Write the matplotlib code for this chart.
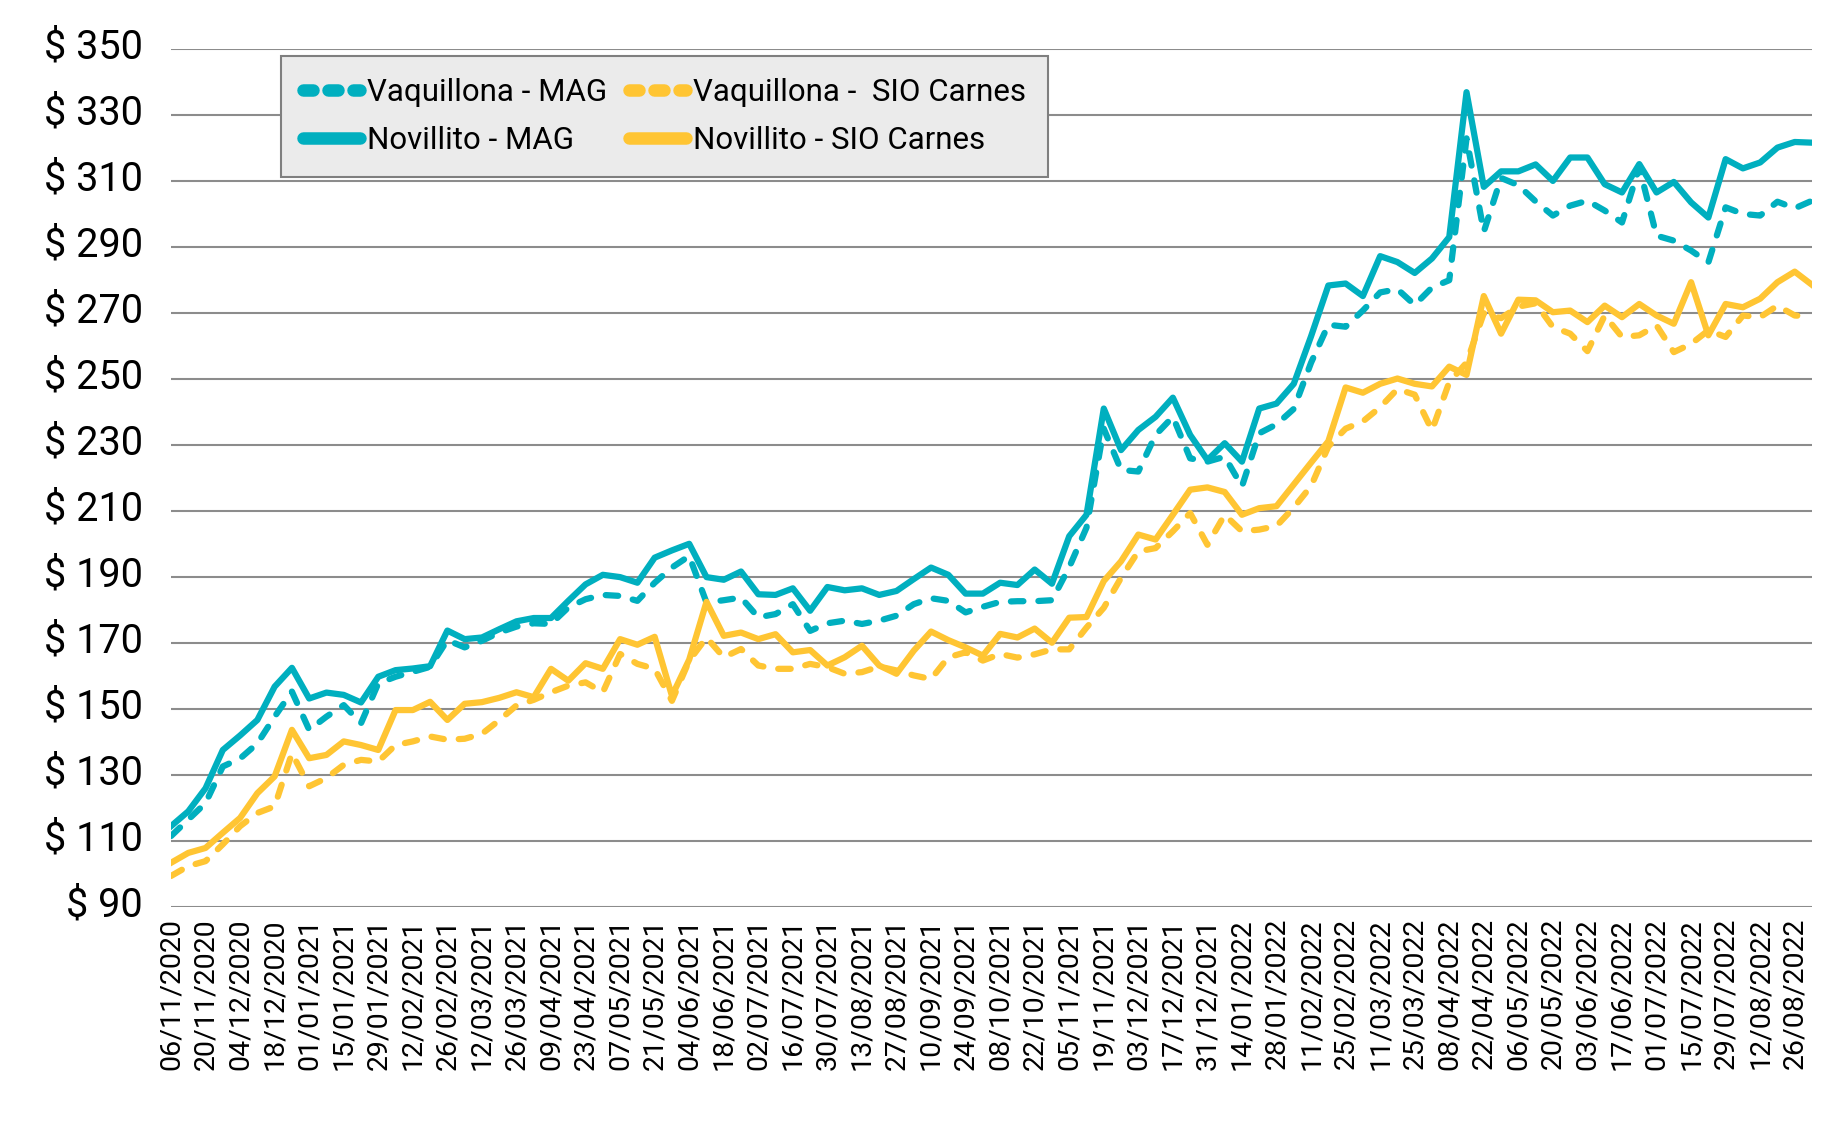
import numpy as np
import pandas as pd
import matplotlib
matplotlib.use('Agg')
import matplotlib.pyplot as plt
import matplotlib.dates as mdates
import matplotlib.transforms as mtransforms
from matplotlib.lines import Line2D

plt.rcParams['font.family'] = ['Roboto', 'DejaVu Sans']

# semanas desde 06/11/2020
fechas = pd.date_range('2020-11-06', periods=96, freq='7D')

novillito_mag = [
    114.5, 119, 126, 137.6, 142, 146.7, 156.8, 162.5, 153.2, 155,
    154.3, 152, 159.8, 161.8, 162.3, 163, 173.8, 171.2, 171.7, 174.2,
    176.6, 177.6, 177.6, 182.8, 187.8, 190.7, 190, 188.3, 195.9, 198.1,
    200.1, 190, 189.2, 191.7, 184.8, 184.6, 186.6, 179.8, 187, 186,
    186.6, 184.6, 185.8, 189.4, 192.9, 190.7, 185, 185, 188.3, 187.6,
    192.3, 188, 202.4, 208.9, 241.1, 228.5, 234.6, 238.6, 244.4, 233.1,
    225.5, 230.6, 225, 241.1, 242.6, 248.6, 263, 278.4, 279, 275.2,
    287.3, 285.5, 282.2, 286.6, 293.1, 337, 308.3, 313, 313, 315.1,
    310.1, 317.2, 317.2, 309.1, 306.6, 315.2, 306.6, 309.8, 303.6, 299,
    316.7, 313.9, 315.7, 320.2, 321.9, 321.7]

vaquillona_mag = [
    111.5, 116.5, 121.5, 132.6, 135, 139.6, 147.7, 155.3, 143.7, 147.7,
    151.2, 145.7, 157.8, 159.8, 161.3, 162.8, 170.9, 168.7, 170.7, 173.2,
    175, 176, 175.8, 180.8, 183.3, 184.6, 184.3, 182.8, 188.3, 192.9,
    196.4, 182.3, 183, 183.8, 177.8, 178.8, 181.8, 173.7, 176, 176.8,
    175.8, 176.8, 178.3, 181.8, 183.6, 182.8, 179.3, 181, 182.5, 182.7,
    182.7, 183, 193, 205, 235, 222.5, 222, 233.1, 238.6, 226,
    225, 226.5, 217.5, 233.6, 236.3, 241, 255, 266.5, 265.9, 270.8,
    276.3, 277.3, 272.5, 277.8, 280, 323, 294.7, 311, 308.8, 303.9,
    299.6, 302.6, 304.1, 301.1, 297.5, 314.2, 293.5, 292, 289, 285.4,
    302.1, 300.1, 299.6, 303.8, 301.8, 304.1]

novillito_sio = [
    103.4, 106.4, 107.9, 112.5, 117, 124.5, 129.6, 143.7, 135.1, 136.1,
    140.2, 139.1, 137.6, 149.7, 149.7, 152.2, 146.7, 151.6, 152.1, 153.4,
    155.1, 153.6, 162.2, 158.6, 163.9, 162.2, 171.2, 169.5, 171.9, 154,
    165, 182.5, 172.2, 173.2, 171.2, 172.7, 167.2, 167.9, 163.2, 165.7,
    169.2, 163.2, 160.7, 167.7, 173.5, 170.9, 168.7, 166.2, 172.8, 171.7,
    174.4, 170.1, 177.7, 177.9, 188.8, 194.8, 202.9, 201.4, 208.9, 216.5,
    217.2, 215.8, 208.9, 210.9, 211.5, 218.1, 224.7, 231.2, 247.5, 245.9,
    248.6, 250.2, 248.6, 247.8, 253.8, 251.3, 275.2, 263.8, 274.1, 273.9,
    270.3, 270.8, 267.3, 272.3, 268.8, 272.8, 269.3, 266.8, 279.4, 263.3,
    272.8, 271.8, 274.4, 279.4, 282.6, 278.6]

vaquillona_sio = [
    99.4, 102.4, 103.9, 109, 114.5, 118.5, 120.5, 136.6, 126.6, 129.1,
    133.1, 134.6, 134.1, 139.1, 140.2, 141.7, 140.7, 141, 142.5, 146.6,
    151.1, 152.8, 155.1, 157.1, 158.1, 155.1, 166.7, 163.7, 162.2, 152.5,
    164.7, 171.7, 165.7, 168.2, 163.2, 162.2, 162.2, 163.7, 162.7, 160.7,
    161.2, 162.9, 161.7, 160.2, 159.1, 165.7, 167.2, 164.7, 166.7, 165.6,
    166.6, 168.1, 168.1, 174.7, 180.7, 189.8, 197.8, 198.8, 203.9, 209.4,
    199.8, 208.9, 203.9, 204.4, 205.5, 211.1, 217.6, 229.6, 235, 237.2,
    241.5, 247, 245.3, 234.5, 249.1, 255, 270, 268.5, 272, 273,
    265.8, 263.8, 258.5, 269.3, 262.8, 263.3, 266.3, 258.2, 260.7, 264.8,
    262.8, 269.3, 268.8, 272.3, 269.3, 269]

teal = '#00AFBF'
amarillo = '#FFC533'

fig = plt.figure(figsize=(18.33, 11.44), dpi=100)
ax = fig.add_axes([171 / 1833, 1 - 907 / 1144, (1812 - 171) / 1833, (907 - 49.3) / 1144])

lw = 4.5
ax.plot(fechas, vaquillona_mag, color=teal, lw=lw, ls=(0, (2, 2.4)),
        dash_capstyle='round', solid_joinstyle='round')
ax.plot(fechas, vaquillona_sio, color=amarillo, lw=lw, ls=(0, (2, 2.4)),
        dash_capstyle='round', solid_joinstyle='round')
ax.plot(fechas, novillito_mag, color=teal, lw=lw, solid_joinstyle='round')
ax.plot(fechas, novillito_sio, color=amarillo, lw=lw, solid_joinstyle='round')

ax.set_ylim(90, 350)
ax.set_yticks(np.arange(90, 351, 20))
ax.set_yticklabels([f'$ {v}' for v in range(90, 351, 20)])
ax.set_xlim(fechas[0], fechas[-1])
ax.set_xticks(pd.date_range('2020-11-06', '2022-08-26', freq='14D'))
ax.xaxis.set_major_formatter(mdates.DateFormatter('%d/%m/%Y'))

ax.grid(axis='y', color='#8C8C8C', lw=1.5)
ax.set_axisbelow(True)
for s in ax.spines.values():
    s.set_visible(False)
ax.tick_params(axis='y', length=0, pad=20, labelsize=28.5)
ax.tick_params(axis='x', length=0, pad=8, labelsize=20.5, labelrotation=90)

# etiquetas del eje y un poco por encima de la grilla
desplazar = mtransforms.ScaledTranslation(0, 6 / 100, fig.dpi_scale_trans)
for t in ax.get_yticklabels():
    t.set_transform(t.get_transform() + desplazar)

# leyenda
h = [
    Line2D([], [], color=teal, lw=9, ls=(0, (0.8, 1.2)), dash_capstyle='round'),
    Line2D([], [], color=teal, lw=9, solid_capstyle='round'),
    Line2D([], [], color=amarillo, lw=9, ls=(0, (0.8, 1.2)), dash_capstyle='round'),
    Line2D([], [], color=amarillo, lw=9, solid_capstyle='round'),
]
labels = ['Vaquillona - MAG', 'Novillito - MAG', 'Vaquillona -  SIO Carnes', 'Novillito - SIO Carnes']
leg = fig.legend(h, labels, ncol=2, loc='upper left',
                 bbox_to_anchor=(280.7 / 1833, 1 - 56 / 1144), borderaxespad=0,
                 fontsize=22.5, frameon=True, fancybox=False, framealpha=1,
                 facecolor='#EBEBEB', edgecolor='#7F7F7F',
                 handlelength=1.85, handletextpad=0.2, columnspacing=0.7,
                 labelspacing=0.6, borderpad=0.7)
leg.get_frame().set_linewidth(1.5)

fig.savefig('out.png', dpi=100)
